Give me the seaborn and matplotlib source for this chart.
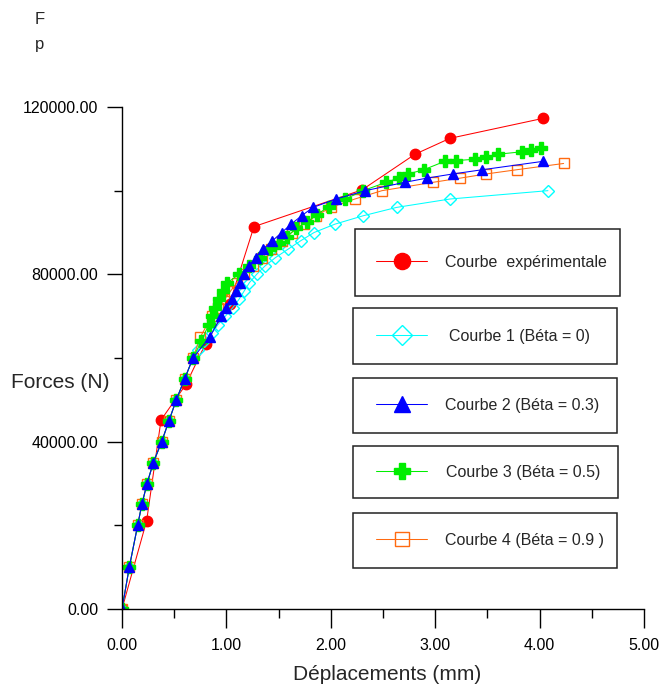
import seaborn as sns
import matplotlib.pyplot as plt
from matplotlib.patches import Rectangle
from matplotlib.ticker import MultipleLocator, FormatStrFormatter

# ------------------------------------------------------------
# Courbes force - déplacement
# ------------------------------------------------------------

# Courbe expérimentale
exp_x = [0.0, 0.236, 0.374, 0.613, 0.80, 1.03, 1.264, 2.30, 2.806, 3.14, 4.036]
exp_f = [0, 21100, 45200, 53700, 63400, 73000, 91400, 100200, 108700, 112500, 117300]

# Courbe 1 (Béta = 0)
c1_x = [0.0, 0.07, 0.15, 0.19, 0.24, 0.30, 0.38, 0.45, 0.52, 0.60, 0.68, 0.73, 0.79, 0.86,
        0.92, 0.99, 1.06, 1.12, 1.17, 1.22, 1.29, 1.37, 1.47, 1.59, 1.71, 1.84, 2.04, 2.31,
        2.63, 3.14, 4.08]
c1_f = [0, 10000, 20000, 25000, 30000, 35000, 40000, 45000, 50000, 55000, 60000, 62000, 64000,
        66000, 68000, 70000, 72000, 74000, 76000, 78000, 80000, 82000, 84000, 86000, 88000,
        90000, 92000, 94000, 96000, 98000, 100000]

# Courbe 2 (Béta = 0.3)
c2_x = [0.0, 0.07, 0.15, 0.19, 0.24, 0.30, 0.38, 0.45, 0.52, 0.60, 0.68, 0.84, 0.95, 1.00,
        1.05, 1.09, 1.13, 1.17, 1.22, 1.28, 1.35, 1.44, 1.53, 1.62, 1.72, 1.83, 2.05, 2.33,
        2.71, 2.92, 3.17, 3.45, 4.03]
c2_f = [0, 10000, 20000, 25000, 30000, 35000, 40000, 45000, 50000, 55000, 60000, 65000, 70000,
        72000, 74000, 76000, 78000, 80000, 82000, 84000, 86000, 88000, 90000, 92000, 94000,
        96000, 98000, 100000, 102000, 103000, 104000, 105000, 107000]

# Courbe 3 (Béta = 0.5)
c3_x = [0.0, 0.07, 0.15, 0.19, 0.24, 0.30, 0.38, 0.45, 0.52, 0.60, 0.68, 0.76, 0.83, 0.86,
        0.89, 0.93, 0.97, 1.01, 1.12, 1.22, 1.32, 1.42, 1.50, 1.58, 1.67, 1.77, 1.87, 1.98,
        2.14, 2.31, 2.53, 2.65, 2.74, 2.89, 3.09, 3.20, 3.38, 3.49, 3.60, 3.83, 3.92, 4.01]
c3_f = [0, 10000, 20000, 25000, 30000, 35000, 40000, 45000, 50000, 55000, 60000, 64000, 68000,
        70000, 72000, 74000, 76000, 78000, 80000, 82000, 84000, 86000, 87500, 89000, 91000,
        92500, 94300, 96200, 98000, 100000, 102000, 103000, 104000, 105000, 107000, 107200,
        107500, 108100, 108700, 109300, 109700, 110100]

# Courbe 4 (Béta = 0.9)
c4_x = [0.0, 0.07, 0.15, 0.19, 0.24, 0.30, 0.38, 0.45, 0.52, 0.60, 0.68, 0.75, 0.86, 0.92,
        0.98, 1.04, 1.10, 1.17, 1.25, 1.34, 1.43, 1.53, 1.625, 1.74, 1.86, 2.00, 2.23, 2.49,
        2.98, 3.24, 3.49, 3.78, 4.23]
c4_f = [0, 10000, 20000, 25000, 30000, 35000, 40000, 45000, 50000, 55000, 60000, 65000, 70000,
        72000, 74000, 76000, 78000, 80000, 82000, 84000, 86000, 88000, 90000, 92000, 94000,
        96000, 98000, 100000, 102000, 103000, 104000, 105000, 106500]

labels = ["Courbe  expérimentale", "Courbe 1 (Béta = 0)", "Courbe 2 (Béta = 0.3)",
          "Courbe 3 (Béta = 0.5)", "Courbe 4 (Béta = 0.9 )"]

# ------------------------------------------------------------
# Figure
# ------------------------------------------------------------
sns.set_style("ticks")
plt.rcParams['font.family'] = ['Liberation Sans', 'DejaVu Sans']

W, H = 661, 686
fig = plt.figure(figsize=(W / 100, H / 100), dpi=100)
ax = fig.add_axes([122 / W, 1 - 609 / H, 522 / W, 502 / H])

# ordre de tracé : expérimentale dessous, courbe 2 dessus
# (x, y, couleur, marqueur, taille, remplissage, taille légende, rang légende)
series = [
    (exp_x, exp_f, "#ff0000", "o", 7.5, "#ff0000", 1.55, 0),
    (c1_x, c1_f, "#00ffff", "D", 6.5, "none", 1.55, 1),
    (c4_x, c4_f, "#ff6a10", "s", 6.5, "none", 1.65, 4),
    (c3_x, c3_f, "#00ee00", "P", 8.5, "#00ee00", 1.35, 3),
    (c2_x, c2_f, "#0000ff", "^", 7.5, "#0000ff", 1.55, 2),
]
handles = [None] * 5
scales = [None] * 5
for xs, fs, col, mk, ms, fc, sc, idx in series:
    sns.lineplot(x=xs, y=fs, ax=ax, color=col, marker=mk, markersize=ms,
                 markerfacecolor=fc, markeredgecolor=col, markeredgewidth=1,
                 linewidth=0.75, sort=False, estimator=None, legend=False)
    handles[idx] = ax.lines[-1]
    scales[idx] = sc

ax.set_xlim(0, 5)
ax.set_ylim(0, 120000)
ax.xaxis.set_major_locator(MultipleLocator(1))
ax.xaxis.set_minor_locator(MultipleLocator(0.5))
ax.yaxis.set_major_locator(MultipleLocator(40000))
ax.yaxis.set_minor_locator(MultipleLocator(20000))
ax.xaxis.set_major_formatter(FormatStrFormatter("%.2f"))
ax.yaxis.set_major_formatter(FormatStrFormatter("%.2f"))

sns.despine(ax=ax)
for s in ["left", "bottom"]:
    ax.spines[s].set_color("black")
    ax.spines[s].set_linewidth(1)

ax.tick_params(axis="both", which="both", direction="out", color="black",
               width=1, labelsize=11.5, labelcolor="black")
ax.tick_params(axis="y", which="major", length=11, pad=6)
ax.tick_params(axis="y", which="minor", length=5.5)
ax.tick_params(axis="x", which="major", length=14, pad=7)
ax.tick_params(axis="x", which="minor", length=6.5)

ax.set_xlabel("Déplacements (mm)", fontsize=15, va="center")
ax.xaxis.set_label_coords((387 - 122) / 522, (609 - 675) / 502)
ax.set_ylabel("Forces (N)", fontsize=15, rotation=0, ha="center", va="center")
ax.yaxis.set_label_coords((60 - 122) / 522, (609 - 383) / 502)

# légende : une boîte par courbe
boxes = [(355, 229, 265, 67), (353, 308, 264, 56), (353, 378, 264, 55),
         (353, 446, 265, 52), (353, 513, 264, 55)]
text_gap = [1.15, 1.4, 1.1, 1.2, 1.1]
for h, lab, (bx, by, bw, bh), gap, sc in zip(handles, labels, boxes, text_gap, scales):
    fig.patches.append(Rectangle((bx / W, 1 - (by + bh) / H), bw / W, bh / H,
                                 transform=fig.transFigure, fill=False,
                                 edgecolor="#222222", linewidth=1.1))
    fig.legend([h], [lab], loc="center left",
               bbox_to_anchor=(376 / W, 1 - (by + bh / 2) / H),
               frameon=False, borderpad=0, borderaxespad=0,
               handlelength=3.2, handletextpad=gap, markerscale=sc,
               fontsize=11.5)

fig.text(35 / W, 1 - 20 / H, "F", fontsize=12, va="center")
fig.text(35 / W, 1 - 45 / H, "p", fontsize=12, va="center")

fig.savefig("out.png", dpi=100, facecolor="white")
